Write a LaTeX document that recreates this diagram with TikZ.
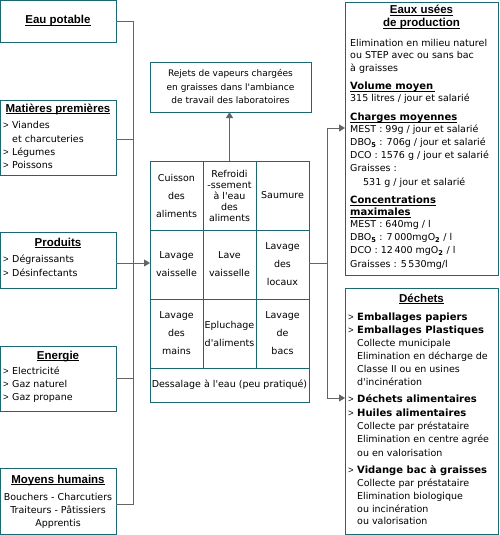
\documentclass[tikz,border=0pt]{standalone}
\usepackage{fontspec}
\setmainfont{DejaVu Sans}[Ligatures=TeXOff]
\newfontfamily\libsans{Liberation Sans}
\usetikzlibrary{arrows.meta,calc}
\definecolor{teal1}{RGB}{28,104,114}
\definecolor{gray1}{RGB}{100,100,100}
\newcommand\myul[1]{\setbox0\hbox{#1}\rlap{\copy0}\rule[-2pt]{\wd0}{1pt}}
\newcommand\bodyf{\fontsize{9.5}{12}\selectfont}
\newcommand\ttlf{\libsans\bfseries\fontsize{11.5}{13}\selectfont}
\newcommand\hdf{\bfseries\fontsize{10}{12}\selectfont}
\tikzset{
  box/.style={draw=teal1, line width=1pt, inner sep=0pt, outer sep=0pt, anchor=north west},
  cell/.style={draw=teal1, line width=1pt, inner sep=0pt, outer sep=0pt, anchor=center,
    minimum width=53pt, minimum height=69pt, align=center, font=\fontsize{9.5}{18}\selectfont},
  conn/.style={draw=gray1, line width=1pt},
  arr/.style={conn, -{Triangle[length=6pt,width=7pt]}},
  txt/.style={inner sep=0pt, anchor=base west, font=\bodyf},
  mk/.style={inner sep=0pt, anchor=base west, font=\libsans\fontsize{9.5}{12}\selectfont},
  txtc/.style={inner sep=0pt, anchor=base, font=\bodyf},
  ttl/.style={inner sep=0pt, anchor=base, font=\ttlf},
  hd/.style={inner sep=0pt, anchor=base west, font=\hdf},
}
\begin{document}
\begin{tikzpicture}[x=1pt,y=-1pt]
\useasboundingbox (0,0) rectangle (500,535);
% ---------- left boxes
\node[box, minimum width=115.5pt, minimum height=42.5pt] (eau) at (0.5,0.5) {};
\node[ttl] (teau) at (58,24) {\myul{Eau potable}};

\node[box, minimum width=115.5pt, minimum height=75pt] (mat) at (0.5,100) {};
\node[ttl] (tmat) at (58,112) {\myul{Matières premières}};
\node[mk] (m1a) at (3,128.5) {>};
\node[txt] (m1) at (12,128.5) {Viandes};
\node[txt] (m2) at (12,142) {et charcuteries};
\node[mk] (m3a) at (3,155) {>};
\node[txt] (m3) at (12,155) {Légumes};
\node[mk] (m4a) at (3,168) {>};
\node[txt] (m4) at (12,168) {Poissons};

\node[box, minimum width=115.5pt, minimum height=56pt] (prod) at (0.5,232) {};
\node[ttl] (tprod) at (58,246) {\myul{Produits}};
\node[mk] (p1a) at (3,262.5) {>};
\node[txt] (p1) at (12,262.5) {Dégraissants};
\node[mk] (p2a) at (3,276) {>};
\node[txt] (p2) at (12,276) {Désinfectants};

\node[box, minimum width=115.5pt, minimum height=65pt] (ener) at (0.5,346) {};
\node[ttl] (tener) at (58,359) {\myul{Energie}};
\node[mk] (e1a) at (3,374.5) {>};
\node[txt] (e1) at (12,374.5) {Electricité};
\node[mk] (e2a) at (3,387.5) {>};
\node[txt] (e2) at (12,387.5) {Gaz naturel};
\node[mk] (e3a) at (3,400.5) {>};
\node[txt] (e3) at (12,400.5) {Gaz propane};

\node[box, minimum width=115.5pt, minimum height=66pt] (moy) at (0.5,468) {};
\node[ttl] (tmoy) at (58,483) {\myul{Moyens humains}};
\node[txtc] (h1) at (58,500.5) {Bouchers - Charcutiers};
\node[txtc] (h2) at (58,513.5) {Traiteurs - Pâtissiers};
\node[txtc] (h3) at (58,526.5) {Apprentis};

% ---------- centre
\node[box, minimum width=161pt, minimum height=49pt] (rej) at (150,63) {};
\node[txtc, font=\fontsize{9}{12}\selectfont] (r1) at (230.5,77) {Rejets de vapeurs chargées};
\node[txtc, font=\fontsize{9}{12}\selectfont] (r2) at (230.5,90) {en graisses dans l'ambiance};
\node[txtc, font=\fontsize{9}{12}\selectfont] (r3) at (230.5,103) {de travail des laboratoires};

\node[cell] (c11) at (176.5,195.5) {Cuisson\\des\\aliments};
\node[cell, font=\fontsize{9.5}{11}\selectfont] (c12) at (229.5,195.5) {Refroidi\\-ssement\\à l'eau\\des\\aliments};
\node[cell] (c13) at (282.5,195.5) {Saumure};
\node[cell] (c21) at (176.5,264.5) {Lavage\\vaisselle};
\node[cell] (c22) at (229.5,264.5) {Lave\\vaisselle};
\node[cell] (c23) at (282.5,264.5) {Lavage\\des\\locaux};
\node[cell] (c31) at (176.5,333.5) {Lavage\\des\\mains};
\node[cell] (c32) at (229.5,333.5) {Epluchage\\d'aliments};
\node[cell] (c33) at (282.5,333.5) {Lavage\\de\\bacs};
\node[cell, minimum width=159pt, minimum height=34pt] (c4) at (229.5,385) {Dessalage à l'eau (peu pratiqué)};

% ---------- right: eaux usées
\node[box, minimum width=153pt, minimum height=272pt] (eaux) at (345,3) {};
\node[ttl] (tw1) at (421.5,14) {\myul{Eaux usées}};
\node[ttl] (tw2) at (421.5,27) {\myul{de production}};
\node[txt] (w1) at (350,46.5) {Elimination en milieu naturel};
\node[txt] (w2) at (350,58.5) {ou STEP avec ou sans bac};
\node[txt] (w3) at (350,71.5) {à graisses};
\node[hd] (w4) at (350,89.5) {\myul{Volume moyen\,}};
\node[txt] (w5) at (350,101.5) {315 litres / jour et salarié};
\node[hd] (w6) at (350,120.5) {\myul{Charges moyennes}};
\node[txt] (w7) at (350,132) {MEST : 99g / jour et salarié};
\node[txt] (w8) at (350,145.5) {DBO\textsubscript{\bfseries 5} : 706g / jour et salarié};
\node[txt] (w9) at (350,158.5) {DCO : 1576 g / jour et salarié};
\node[txt] (w10) at (350,171.5) {Graisses :};
\node[txt] (w11) at (363,185) {531 g / jour et salarié};
\node[hd] (w12) at (350,203.5) {\myul{Concentrations}};
\node[hd] (w13) at (350,215.5) {\myul{maximales}};
\node[txt] (w14) at (350,227.5) {MEST : 640mg / l};
\node[txt] (w15) at (350,240.5) {DBO\textsubscript{\bfseries 5} : 7\,000mgO\textsubscript{\bfseries 2} / l};
\node[txt] (w16) at (350,253.5) {DCO : 12\,400 mgO\textsubscript{\bfseries 2} / l};
\node[txt] (w17) at (350,267) {Graisses : 5\,530mg/l};

% ---------- right: déchets
\node[box, minimum width=153pt, minimum height=246pt] (dech) at (345,288) {};
\node[ttl] (td) at (421.5,302) {\myul{Déchets}};
\node[mk] (d1a) at (348,320.5) {>};
\node[hd] (d1) at (357,320.5) {Emballages papiers};
\node[mk] (d2a) at (348,333.5) {>};
\node[hd] (d2) at (357,333.5) {Emballages Plastiques};
\node[txt] (d3) at (357,346) {Collecte municipale};
\node[txt] (d4) at (357,359.5) {Elimination en décharge de};
\node[txt] (d5) at (357,372.5) {Classe II ou en usines};
\node[txt] (d6) at (357,385) {d'incinération};
\node[mk] (d7a) at (348,402.5) {>};
\node[hd] (d7) at (357,402.5) {Déchets alimentaires};
\node[mk] (d8a) at (348,416) {>};
\node[hd] (d8) at (357,416) {Huiles alimentaires};
\node[txt] (d9) at (357,429.5) {Collecte par préstataire};
\node[txt] (d10) at (357,442.5) {Elimination en centre agrée};
\node[txt] (d11) at (357,456) {ou en valorisation};
\node[mk] (d12a) at (348,473.5) {>};
\node[hd] (d12) at (357,473.5) {Vidange bac à graisses};
\node[txt] (d13) at (357,486.5) {Collecte par préstataire};
\node[txt] (d14) at (357,499.5) {Elimination biologique};
\node[txt] (d15) at (357,512) {ou incinération};
\node[txt] (d16) at (357,524.5) {ou valorisation};

% ---------- connectors
\coordinate (jl) at (133,263);
\coordinate (jr) at (327,263);
\coordinate (ra) at (327,128);
\coordinate (rb) at (327,398);
\draw[conn] (eau.east) -- (eau.east -| jl) -- ($(moy.east -| jl)+(0,3)$) -- ($(moy.east)+(0,3)$);
\draw[conn] ($(mat.east)+(0,1.5)$) -- ($(mat.east -| jl)+(0,1.5)$);
\draw[conn] (prod.east |- jl) -- (jl);
\draw[conn] (ener.east) -- (ener.east -| jl);
\draw[arr] (jl) -- (jl -| c21.west);
\draw[arr] (c12.north) -- (c12.north |- rej.south);
\draw[conn] (jr -| c23.east) -- (jr);
\draw[arr] (jr) -- (ra) -- (ra -| eaux.west);
\draw[arr] (jr) -- (rb) -- (rb -| dech.west);
\end{tikzpicture}
\end{document}
